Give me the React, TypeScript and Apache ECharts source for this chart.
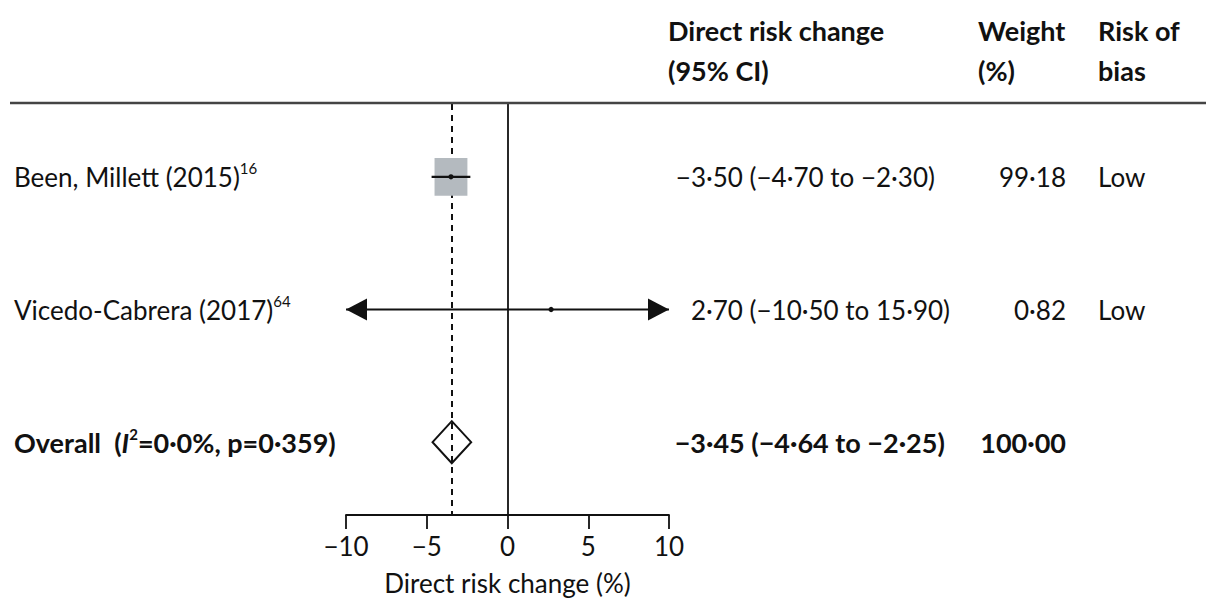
import React, { useEffect, useRef } from "react";
import * as echarts from "echarts";

// ---- data ----
const studies = ["Been, Millett (2015)", "Vicedo-Cabrera (2017)"];
const studyRefs = ["16", "64"];
const estimates = [-3.5, 2.7];
const lowerCI = [-4.7, -10.5];
const upperCI = [-2.3, 15.9];
const weights = [99.18, 0.82];
const riskOfBias = ["Low", "Low"];

const overallLabel = "Overall";
const overallEstimate = -3.45;
const overallLower = -4.64;
const overallUpper = -2.25;
const overallWeight = 100.0;
const overallI2 = 0.0;
const overallP = 0.359;

const headerLines = [
  ["Direct risk change", "(95% CI)"],
  ["Weight", "(%)"],
  ["Risk of", "bias"],
];
const xTicks = { min: -10, max: 10, interval: 5 };
const axisTitle = "Direct risk change (%)";

// ---- formatting helpers ----
const MINUS = "\u2212";
const DOT = "\u00B7";
const fmt = (v: number, d = 2) => {
  const s = Math.abs(v).toFixed(d).replace(".", DOT);
  return (v < 0 ? MINUS : "") + s;
};
const ciText = (e: number, l: number, u: number) =>
  `${fmt(e)} (${fmt(l)} to ${fmt(u)})`;

const FONT = "Lato";
const FS = 26;
const FSB = 27;
const INK = "#111";

// column x positions (layout)
const COL_NAME = 14;
const COL_CI_DEC = 706;
const COL_W_RIGHT = 1066;
const COL_BIAS = 1098;

export default function App() {
  const ref = useRef<HTMLDivElement>(null);

  useEffect(() => {
    if (!ref.current) return;
    const chart = echarts.init(ref.current, undefined, { renderer: "svg" });

    const rows = studies.map((s, i) => [
      i + 1,
      estimates[i],
      lowerCI[i],
      upperCI[i],
      weights[i],
    ]);

    const tableRows = studies.map((s, i) => ({
      value: [i + 1],
      name: s,
      sup: studyRefs[i],
      ci: ciText(estimates[i], lowerCI[i], upperCI[i]),
      w: fmt(weights[i]),
      bias: riskOfBias[i],
      bold: false,
    }));
    tableRows.push({
      value: [studies.length + 1],
      name: overallLabel,
      sup: "",
      ci: ciText(overallEstimate, overallLower, overallUpper),
      w: fmt(overallWeight),
      bias: "",
      bold: true,
    });

    const option: any = {
      animation: false,
      textStyle: { fontFamily: FONT },
      grid: { left: 346, right: 537, top: 104, bottom: 85 },
      xAxis: {
        type: "value",
        min: xTicks.min,
        max: xTicks.max,
        interval: xTicks.interval,
        splitLine: { show: false },
        axisLine: { show: true, onZero: false, lineStyle: { color: INK, width: 1.8 } },
        axisTick: { show: true, length: 14, lineStyle: { color: INK, width: 1.8 } },
        axisLabel: {
          margin: 18,
          fontSize: FS,
          fontFamily: FONT,
          color: INK,
          formatter: (v: number) => (v < 0 ? MINUS + Math.abs(v) : String(v)),
        },
        name: axisTitle,
        nameLocation: "middle",
        nameGap: 55,
        nameTextStyle: { fontSize: FS, fontFamily: FONT, color: INK },
      },
      yAxis: {
        type: "value",
        min: 0.451,
        max: 3.549,
        inverse: true,
        splitLine: { show: false },
        axisLabel: { show: false },
        axisTick: { show: false },
        axisLine: { show: true, onZero: true, lineStyle: { color: INK, width: 1.8 } },
      },
      graphic: [
        {
          type: "line",
          shape: { x1: 10, y1: 103, x2: 1206, y2: 103 },
          style: { stroke: "#444", lineWidth: 2.5 },
          z: 10,
        },
        ...headerLines.map((lines, i) => ({
          type: "text",
          x: [668, 978, 1098][i],
          y: 10,
          style: {
            text: lines.join("\n"),
            fontSize: FSB,
            fontWeight: "bold",
            fontFamily: FONT,
            fill: INK,
            lineHeight: 40,
          },
        })),
      ],
      series: [
        {
          type: "custom",
          name: "studies",
          coordinateSystem: "cartesian2d",
          data: rows,
          encode: { x: 1, y: 0 },
          renderItem: (params: any, api: any) => {
            const row = api.value(0);
            const est = api.value(1);
            const lo = api.value(2);
            const hi = api.value(3);
            const w = api.value(4);
            const l = Math.max(lo, xTicks.min);
            const h = Math.min(hi, xTicks.max);
            const [pe, y] = api.coord([est, row]);
            const pl = api.coord([l, row])[0];
            const ph = api.coord([h, row])[0];
            const bw = Math.sqrt(w) * 3.3;
            const bh = Math.sqrt(w) * 3.8;
            const children: any[] = [
              {
                type: "rect",
                shape: { x: pe - bw / 2, y: y - bh / 2, width: bw, height: bh },
                style: { fill: "#b4babf" },
              },
              {
                type: "line",
                shape: { x1: pl, y1: y, x2: ph, y2: y },
                style: { stroke: INK, lineWidth: 2.2 },
              },
              {
                type: "circle",
                shape: { cx: pe, cy: y, r: 2.6 },
                style: { fill: INK },
              },
            ];
            const aw = 21;
            const ah = 11;
            if (lo < xTicks.min) {
              children.push({
                type: "polygon",
                shape: { points: [[pl, y], [pl + aw, y - ah], [pl + aw, y + ah]] },
                style: { fill: INK },
              });
            }
            if (hi > xTicks.max) {
              children.push({
                type: "polygon",
                shape: { points: [[ph, y], [ph - aw, y - ah], [ph - aw, y + ah]] },
                style: { fill: INK },
              });
            }
            return { type: "group", children };
          },
          z: 5,
        },
        {
          type: "custom",
          name: "overall",
          coordinateSystem: "cartesian2d",
          data: [[studies.length + 1, overallEstimate, overallLower, overallUpper]],
          encode: { x: 1, y: 0 },
          renderItem: (params: any, api: any) => {
            const row = api.value(0);
            const [pe, y] = api.coord([api.value(1), row]);
            const pl = api.coord([api.value(2), row])[0];
            const ph = api.coord([api.value(3), row])[0];
            const hh = 21;
            return {
              type: "polygon",
              shape: { points: [[pl, y], [pe, y - hh], [ph, y], [pe, y + hh]] },
              style: { fill: "rgba(255,255,255,0)", stroke: INK, lineWidth: 2 },
            };
          },
          markLine: {
            silent: true,
            symbol: ["none", "none"],
            label: { show: false },
            lineStyle: { color: INK, type: [6, 5], width: 2 },
            data: [{ xAxis: overallEstimate }],
          },
          z: 4,
        },
        {
          type: "custom",
          name: "table",
          coordinateSystem: "cartesian2d",
          data: tableRows.map((r) => ({ value: [0, r.value[0]] })),
          encode: { x: 0, y: 1 },
          renderItem: (params: any, api: any) => {
            const r = tableRows[params.dataIndex];
            const y = api.coord([0, api.value(1)])[1];
            const fs = r.bold ? FSB : FS;
            const base = {
              fontSize: fs,
              fontFamily: FONT,
              fontWeight: r.bold ? "bold" : "normal",
              fill: INK,
              verticalAlign: "middle",
            };
            const nameText = r.bold
              ? `{b|${r.name}  (}{bi|I}{bsup|2}{b|=${fmt(overallI2, 1)}%, p=${fmt(overallP, 3)})}`
              : `{n|${r.name}}{sup|${r.sup}}`;
            const decIdx = r.ci.indexOf(DOT);
            const ciInt = r.ci.slice(0, decIdx);
            const ciRest = r.ci.slice(decIdx);
            return {
              type: "group",
              children: [
                {
                  type: "text",
                  x: COL_NAME,
                  y,
                  style: {
                    ...base,
                    text: nameText,
                    rich: {
                      n: { fontSize: FS, fontFamily: FONT, color: INK, lineHeight: 32 },
                      sup: { fontSize: 15, fontFamily: FONT, color: INK, verticalAlign: "top", lineHeight: 32 },
                      b: { fontSize: FSB, fontFamily: FONT, fontWeight: "bold", color: INK, lineHeight: 32 },
                      bi: { fontSize: FSB, fontFamily: FONT, fontWeight: "bold", fontStyle: "italic", color: INK, lineHeight: 32 },
                      bsup: { fontSize: 15, fontFamily: FONT, fontWeight: "bold", color: INK, verticalAlign: "top", lineHeight: 32 },
                    },
                  },
                },
                {
                  type: "text",
                  x: COL_CI_DEC,
                  y,
                  style: { ...base, text: ciInt, align: "right" },
                },
                {
                  type: "text",
                  x: COL_CI_DEC,
                  y,
                  style: { ...base, text: ciRest, align: "left" },
                },
                {
                  type: "text",
                  x: COL_W_RIGHT,
                  y,
                  style: { ...base, text: r.w, align: "right" },
                },
                {
                  type: "text",
                  x: COL_BIAS,
                  y,
                  style: { ...base, text: r.bias },
                },
              ],
            };
          },
          z: 6,
        },
      ],
    };

    chart.setOption(option);
    return () => chart.dispose();
  }, []);

  return (
    <div
      ref={ref}
      style={{ position: "absolute", left: 0, top: 0, width: 1206, height: 601, background: "#fff" }}
    />
  );
}
